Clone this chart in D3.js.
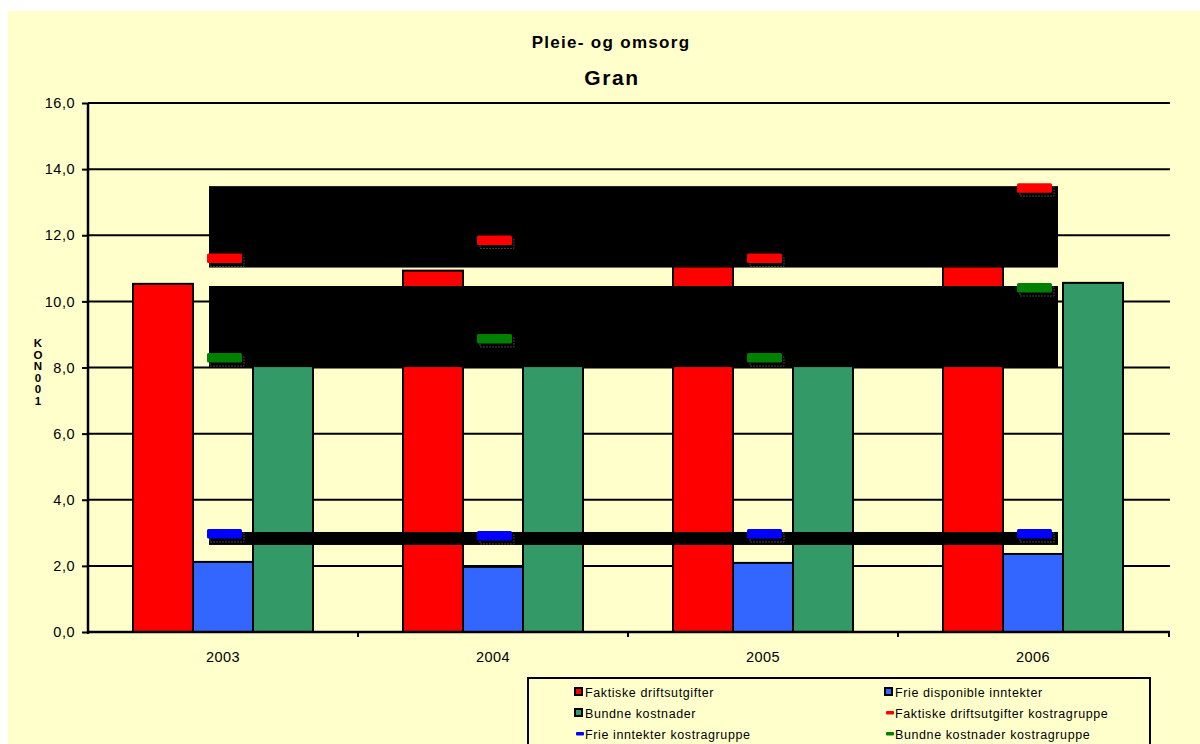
<!DOCTYPE html>
<html>
<head>
<meta charset="utf-8">
<script src="https://cdn.jsdelivr.net/npm/d3@7"></script>
<style>
  html, body { margin: 0; padding: 0; background: #ffffff; }
  svg text { font-family: "Liberation Sans", Arial, sans-serif; }
</style>
</head>
<body>
<svg id="chart" width="1200" height="744"></svg>
<script>
// ---- data ----
const years = ["2003", "2004", "2005", "2006"];
const faktiske = [10.53, 10.93, 11.5, 12.1];
const frie = [2.12, 1.97, 2.09, 2.36];
const bundne = [8.9, 9.3, 8.9, 10.56];
const faktiskeKostra = [11.31, 11.86, 11.31, 13.44];
const frieKostra = [2.98, 2.92, 2.98, 2.98];
const bundneKostra = [8.30, 8.88, 8.30, 10.42];
const yTicks = [0, 2, 4, 6, 8, 10, 12, 14, 16];
const title = "Pleie- og omsorg";
const subtitle = "Gran";
const yLabelChars = ["K", "O", "N", "0", "0", "1"];

const barSeries = [
  { name: "Faktiske driftsutgifter", values: faktiske, color: "#FF0000" },
  { name: "Frie disponible inntekter", values: frie, color: "#3366FF" },
  { name: "Bundne kostnader", values: bundne, color: "#339966" }
];
const lineSeries = [
  { name: "Faktiske driftsutgifter kostragruppe", values: faktiskeKostra, color: "#FF0000" },
  { name: "Frie inntekter kostragruppe", values: frieKostra, color: "#0000FF" },
  { name: "Bundne kostnader kostragruppe", values: bundneKostra, color: "#008000" }
];

const svg = d3.select("#chart");
const fmt = v => d3.format(".1f")(v).replace(".", ",");

// background
svg.append("rect").attr("x", 8).attr("y", 11).attr("width", 1192).attr("height", 733).attr("fill", "#FFFFCC");

const x0 = 88, x1 = 1168, yBottom = 632, yTop = 103;
const x = d3.scaleBand().domain(years).range([x0, x1]).padding(0);
const xs = d3.scaleBand().domain(barSeries.map(s => s.name)).range([45, 225]).padding(0);
const y = d3.scaleLinear().domain([0, 16]).range([yBottom, yTop]);

// titles
svg.append("text").attr("x", 611).attr("y", 48).attr("text-anchor", "middle")
  .attr("font-size", 17).attr("font-weight", "bold").attr("letter-spacing", 1.3).text(title);
svg.append("text").attr("x", 612).attr("y", 85).attr("text-anchor", "middle")
  .attr("font-size", 21).attr("font-weight", "bold").attr("letter-spacing", 1.6).text(subtitle);

// gridlines
svg.append("g").selectAll("line").data(yTicks.filter(t => t > 0)).join("line")
  .attr("x1", x0).attr("x2", x1 + 2).attr("y1", d => y(d)).attr("y2", d => y(d))
  .attr("stroke", "#000").attr("stroke-width", 2);

// bars
const groups = svg.append("g").selectAll("g").data(years).join("g")
  .attr("transform", d => `translate(${x(d)},0)`);
barSeries.forEach(s => {
  groups.append("rect")
    .attr("x", xs(s.name))
    .attr("width", xs.bandwidth())
    .attr("y", (d, i) => y(s.values[i]))
    .attr("height", (d, i) => y(0) - y(s.values[i]))
    .attr("fill", s.color).attr("stroke", "#000").attr("stroke-width", 2);
});

// black bands (bounding boxes of the kostragruppe series)
lineSeries.forEach(s => {
  const mx = d3.max(s.values), mn = d3.min(s.values);
  const xa = x(years[0]) + x.bandwidth() / 2 - 14;
  const xb = x(years[years.length - 1]) + x.bandwidth() / 2 + 25;
  svg.append("rect").attr("x", xa).attr("width", xb - xa)
    .attr("y", y(mx) - 1.5).attr("height", (y(mn) + 9.5) - (y(mx) - 1.5))
    .attr("fill", "#000");
});

// axes
const yAxis = d3.axisLeft(y).tickValues(yTicks).tickFormat(fmt).tickSize(6).tickPadding(6);
const gy = svg.append("g").attr("transform", `translate(${x0},0)`).call(yAxis);
gy.select(".domain").attr("stroke", "#000").attr("stroke-width", 2.5).attr("d", `M0,${yTop}V${yBottom + 2}`);
gy.selectAll(".tick line").attr("stroke", "#000").attr("stroke-width", 2);
gy.selectAll(".tick text").attr("font-size", 14.5).attr("fill", "#000")
  .attr("font-family", "Liberation Sans, Arial, sans-serif").attr("letter-spacing", 0.5).attr("dx", -1);

const xAxis = d3.axisBottom(x).tickSize(0).tickPadding(20);
const gx = svg.append("g").attr("transform", `translate(0,${yBottom})`).call(xAxis);
gx.select(".domain").attr("stroke", "#000").attr("stroke-width", 2.5).attr("d", `M${x0},0H${x1 + 2}`);
gx.selectAll(".tick text").attr("font-size", 14.5).attr("fill", "#000")
  .attr("font-family", "Liberation Sans, Arial, sans-serif").attr("letter-spacing", 0.5);
// boundary ticks
svg.append("g").selectAll("line").data(years.slice(1).concat(["end"])).join("line")
  .attr("x1", d => d === "end" ? x1 + 1 : x(d)).attr("x2", d => d === "end" ? x1 + 1 : x(d))
  .attr("y1", yBottom).attr("y2", yBottom + 5).attr("stroke", "#000").attr("stroke-width", 2);

// kostragruppe markers
lineSeries.forEach(s => {
  const g = svg.append("g");
  years.forEach((yr, i) => {
    const cx = x(yr) + x.bandwidth() / 2 + 1.5;
    const cy = y(s.values[i]);
    g.append("rect").attr("x", cx - 14.5).attr("y", cy - 0.5).attr("width", 34).attr("height", 9)
      .attr("fill", "none").attr("stroke", "#444").attr("stroke-width", 1).attr("stroke-dasharray", "2,1");
    g.append("rect").attr("x", cx - 17.5).attr("y", cy - 4.5).attr("width", 35).attr("height", 9.5)
      .attr("rx", 1.5).attr("fill", s.color);
  });
});

// y label (stacked characters)
svg.append("g").selectAll("text").data(yLabelChars).join("text")
  .attr("x", 38).attr("y", (d, i) => 347 + i * 11.6)
  .attr("text-anchor", "middle").attr("font-size", 11.5).attr("font-weight", "bold")
  .text(d => d);

// legend
svg.append("rect").attr("x", 528).attr("y", 678).attr("width", 622).attr("height", 80)
  .attr("fill", "none").attr("stroke", "#000").attr("stroke-width", 2);
const legendItems = [
  { s: barSeries[0], type: "bar", col: 0, row: 0 },
  { s: barSeries[1], type: "bar", col: 1, row: 0 },
  { s: barSeries[2], type: "bar", col: 0, row: 1 },
  { s: lineSeries[0], type: "line", col: 1, row: 1 },
  { s: lineSeries[1], type: "line", col: 0, row: 2 },
  { s: lineSeries[2], type: "line", col: 1, row: 2 }
];
const colX = [575, 885], rowY = [692, 713, 734];
legendItems.forEach(it => {
  const lx = colX[it.col], ly = rowY[it.row];
  if (it.type === "bar") {
    svg.append("rect").attr("x", lx).attr("y", ly - 4).attr("width", 7).attr("height", 7)
      .attr("fill", it.s.color).attr("stroke", "#000").attr("stroke-width", 2);
  } else {
    svg.append("rect").attr("x", lx + 1).attr("y", ly - 2).attr("width", 8).attr("height", 3.5)
      .attr("rx", 1).attr("fill", it.s.color);
  }
  svg.append("text").attr("x", lx + 10).attr("y", ly + 4.5).attr("font-size", 12.5)
    .attr("letter-spacing", 0.6).attr("fill", "#000").text(it.s.name);
});
</script>
</body>
</html>
